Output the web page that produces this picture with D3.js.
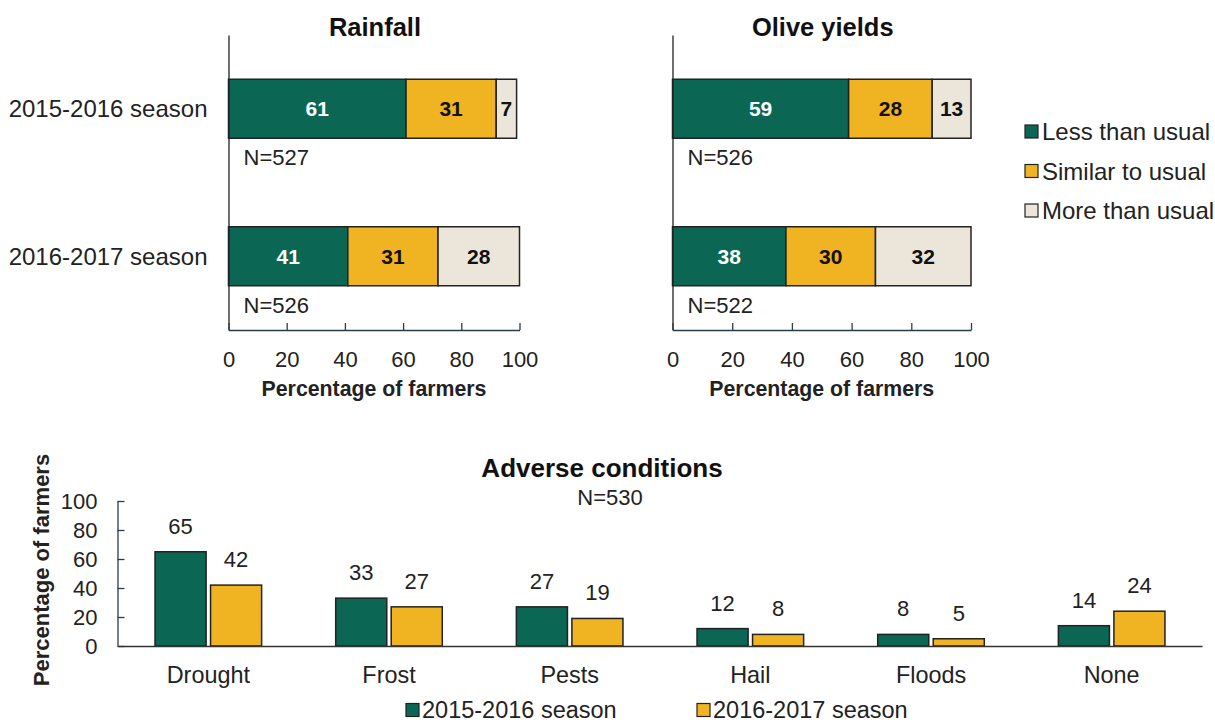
<!DOCTYPE html>
<html>
<head>
<meta charset="utf-8">
<script src="https://cdn.jsdelivr.net/npm/d3@7"></script>
<style>
  html, body { margin: 0; padding: 0; background: #fff; }
  svg { display: block; font-family: "Liberation Sans", Arial, sans-serif; }
</style>
</head>
<body>
<svg id="chart" width="1215" height="724"></svg>
<script>
// ---------- DATA ----------
const seasons = ["2015-2016 season", "2016-2017 season"];
const responseLevels = ["Less than usual", "Similar to usual", "More than usual"];

const rainfallLess = [61, 41];
const rainfallSimilar = [31, 31];
const rainfallMore = [7, 28];
const rainfallN = [527, 526];

const yieldLess = [59, 38];
const yieldSimilar = [28, 30];
const yieldMore = [13, 32];
const yieldN = [526, 522];

const conditions = ["Drought", "Frost", "Pests", "Hail", "Floods", "None"];
const adverse1516 = [65, 33, 27, 12, 8, 14];
const adverse1617 = [42, 27, 19, 8, 5, 24];
const adverseN = 530;

const pctTicks = [0, 20, 40, 60, 80, 100];

// ---------- STYLE ----------
const GREEN = "#0b6753";
const YELLOW = "#f0b322";
const BEIGE = "#ece6da";
const STROKE = "#222";
const TEXT = "#222";
const levelColors = [GREEN, YELLOW, BEIGE];
const levelTextColors = ["#ffffff", "#111", "#111"];

const svg = d3.select("#chart");

// ---------- TOP STACKED BAR PANELS ----------
function stackedPanel(opts) {
  const { x0, x1, title, less, similar, more, ns, showCats } = opts;
  const g = svg.append("g");
  const x = d3.scaleLinear().domain([0, 100]).range([x0, x1]);
  const y = d3.scaleBand().domain(seasons).range([35, 330]).padding(0);
  const barH = y.bandwidth() * 0.4;

  const rows = seasons.map((s, i) => ({ season: s, values: [less[i], similar[i], more[i]], n: ns[i] }));
  const stackData = rows.map(r => {
    let acc = 0;
    return r.values.map((v, k) => { const seg = { season: r.season, k, v, start: acc, end: acc + v }; acc += v; return seg; });
  });

  stackData.forEach(segs => {
    g.selectAll(null).data(segs).enter().append("rect")
      .attr("x", d => x(d.start))
      .attr("y", d => y(d.season) + y.bandwidth() / 2 - barH / 2)
      .attr("width", d => x(d.end) - x(d.start))
      .attr("height", barH)
      .attr("fill", d => levelColors[d.k])
      .attr("stroke", STROKE)
      .attr("stroke-width", 1.5);
    g.selectAll(null).data(segs).enter().append("text")
      .attr("x", d => (x(d.start) + x(d.end)) / 2)
      .attr("y", d => y(d.season) + y.bandwidth() / 2)
      .attr("dy", "0.36em")
      .attr("text-anchor", "middle")
      .attr("font-size", 21)
      .attr("font-weight", "bold")
      .attr("fill", d => levelTextColors[d.k])
      .text(d => d.v);
  });

  g.selectAll(null).data(rows).enter().append("text")
    .attr("x", x(0) + 15)
    .attr("y", d => y(d.season) + y.bandwidth() / 2 + barH / 2 + 27)
    .attr("font-size", 22)
    .attr("fill", TEXT)
    .text(d => "N=" + d.n);

  const yAxis = d3.axisLeft(y).tickValues([]).tickSizeOuter(0);
  const ya = g.append("g").attr("transform", `translate(${x(0)},0)`).call(yAxis);
  ya.select(".domain").attr("stroke", "#222").attr("stroke-width", 1.3);

  if (showCats) {
    g.selectAll(null).data(seasons).enter().append("text")
      .attr("x", x(0) - 21)
      .attr("y", d => y(d) + y.bandwidth() / 2)
      .attr("dy", "0.36em")
      .attr("text-anchor", "end")
      .attr("font-size", 24)
      .attr("fill", TEXT)
      .text(d => d);
  }

  const xAxis = d3.axisBottom(x).tickValues(pctTicks).tickSizeInner(-7).tickSizeOuter(0).tickPadding(21);
  const xa = g.append("g").attr("transform", `translate(0,${y.range()[1]})`).call(xAxis);
  xa.select(".domain").attr("stroke", "#2d3a4a").attr("stroke-width", 1.5);
  xa.selectAll(".tick line").attr("stroke", "#2d3a4a").attr("stroke-width", 1.3);
  xa.selectAll(".tick text").attr("font-size", 22).attr("fill", TEXT)
    .attr("font-family", "Liberation Sans, Arial, sans-serif");

  g.append("text")
    .attr("x", (x0 + x1) / 2).attr("y", 396)
    .attr("text-anchor", "middle").attr("font-size", 21.3).attr("font-weight", "bold").attr("fill", TEXT)
    .text("Percentage of farmers");

  g.append("text")
    .attr("x", (x0 + x1) / 2 + 1).attr("y", 36)
    .attr("text-anchor", "middle").attr("font-size", 25.5).attr("font-weight", "bold").attr("fill", "#111")
    .text(title);
}

stackedPanel({ x0: 228.5, x1: 519.5, title: "Rainfall", less: rainfallLess, similar: rainfallSimilar, more: rainfallMore, ns: rainfallN, showCats: true });
stackedPanel({ x0: 672.5, x1: 971, title: "Olive yields", less: yieldLess, similar: yieldSimilar, more: yieldMore, ns: yieldN, showCats: false });

// right legend
const legR = svg.append("g");
responseLevels.forEach((lab, i) => {
  const cy = 131.5 + i * 39.5;
  legR.append("rect").attr("x", 1025).attr("y", cy - 6.5).attr("width", 13).attr("height", 13)
    .attr("fill", levelColors[i]).attr("stroke", STROKE).attr("stroke-width", 1.2);
  legR.append("text").attr("x", 1042).attr("y", cy).attr("dy", "0.36em")
    .attr("font-size", 24).attr("fill", TEXT).text(lab);
});

// ---------- BOTTOM GROUPED BAR CHART ----------
const gb = svg.append("g");
const seriesNames = ["2015-2016 season", "2016-2017 season"];
const seriesValues = [adverse1516, adverse1617];
const seriesColors = [GREEN, YELLOW];

const xb = d3.scaleBand().domain(conditions).range([118, 1202]).paddingInner(0.41).paddingOuter(0.205);
const xs = d3.scaleBand().domain(seriesNames).range([0, xb.bandwidth()]).paddingInner(0.08);
const yb = d3.scaleLinear().domain([0, 100]).range([646, 501]);

const barData = [];
conditions.forEach((c, i) => seriesNames.forEach((s, k) => barData.push({ c, s, k, v: seriesValues[k][i] })));

gb.selectAll("rect.bar").data(barData).enter().append("rect")
  .attr("class", "bar")
  .attr("x", d => xb(d.c) + xs(d.s))
  .attr("y", d => yb(d.v))
  .attr("width", xs.bandwidth())
  .attr("height", d => yb(0) - yb(d.v))
  .attr("fill", d => seriesColors[d.k])
  .attr("stroke", STROKE)
  .attr("stroke-width", 1.5);

gb.selectAll("text.val").data(barData).enter().append("text")
  .attr("class", "val")
  .attr("x", d => xb(d.c) + xs(d.s) + xs.bandwidth() / 2)
  .attr("y", d => yb(d.v) - 18)
  .attr("text-anchor", "middle")
  .attr("font-size", 22)
  .attr("fill", TEXT)
  .text(d => d.v);

const yAxisB = d3.axisLeft(yb).tickValues(pctTicks).tickSizeInner(-7).tickSizeOuter(0).tickPadding(20);
const yab = gb.append("g").attr("transform", "translate(117.5,0)").call(yAxisB);
yab.select(".domain").attr("stroke", "#2d3a4a").attr("stroke-width", 1.3);
yab.selectAll(".tick line").attr("stroke", "#2d3a4a").attr("stroke-width", 1.3);
yab.selectAll(".tick text").attr("font-size", 22).attr("fill", TEXT)
  .attr("font-family", "Liberation Sans, Arial, sans-serif");

const xAxisB = d3.axisBottom(xb).tickSize(0).tickPadding(20);
const xab = gb.append("g").attr("transform", `translate(0,${yb(0)})`).call(xAxisB);
xab.select(".domain").attr("stroke", "#333").attr("stroke-width", 1.5);
xab.selectAll(".tick text").attr("font-size", 23.4).attr("fill", TEXT)
  .attr("font-family", "Liberation Sans, Arial, sans-serif");

gb.append("text")
  .attr("transform", "translate(49,570) rotate(-90)")
  .attr("text-anchor", "middle").attr("font-size", 22).attr("font-weight", "bold").attr("fill", TEXT)
  .text("Percentage of farmers");

gb.append("text").attr("x", 602).attr("y", 477)
  .attr("text-anchor", "middle").attr("font-size", 26).attr("font-weight", "bold").attr("fill", "#111")
  .text("Adverse conditions");
gb.append("text").attr("x", 610).attr("y", 505)
  .attr("text-anchor", "middle").attr("font-size", 22).attr("fill", TEXT)
  .text("N=" + adverseN);

const legB = svg.append("g");
const legX = [406, 697];
seriesNames.forEach((s, k) => {
  legB.append("rect").attr("x", legX[k]).attr("y", 703.5).attr("width", 13).attr("height", 13)
    .attr("fill", seriesColors[k]).attr("stroke", STROKE).attr("stroke-width", 1.2);
  legB.append("text").attr("x", legX[k] + 16).attr("y", 710).attr("dy", "0.36em")
    .attr("font-size", 23.5).attr("fill", TEXT).text(s);
});
</script>
</body>
</html>
